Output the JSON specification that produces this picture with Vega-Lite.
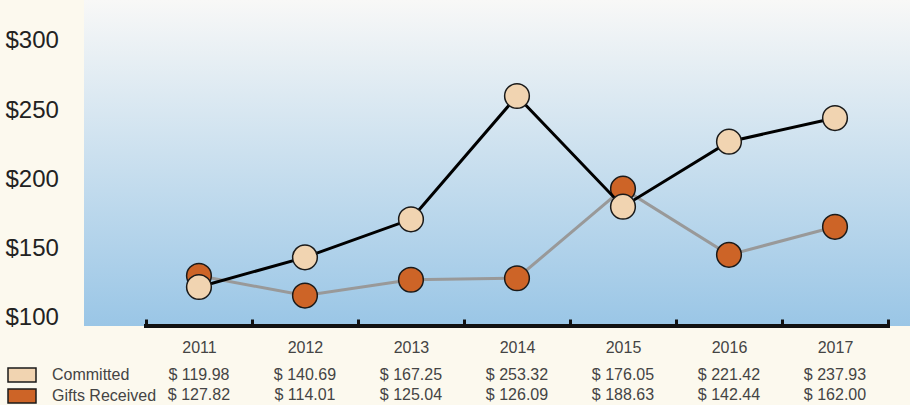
{
  "$schema": "https://vega.github.io/schema/vega-lite/v6.json",
  "width": 826,
  "height": 326,
  "autosize": {"type": "none"},
  "padding": {"left": 84, "top": 0, "right": 0, "bottom": 79},
  "background": "#fcf9ee",
  "config": {
    "font": "Liberation Sans",
    "view": {
      "stroke": null,
      "fill": {
        "gradient": "linear", "x1": 0, "y1": 0, "x2": 0, "y2": 1,
        "stops": [
          {"offset": 0, "color": "#f8f8f7"},
          {"offset": 1, "color": "#9ac6e6"}
        ]
      }
    },
    "locale": {
      "number": {"decimal": ".", "thousands": ",", "grouping": [3], "currency": ["$ ", ""]}
    }
  },
  "data": {
    "values": [
      {"year": "2011", "series": "Committed", "value": 119.98},
      {"year": "2012", "series": "Committed", "value": 140.69},
      {"year": "2013", "series": "Committed", "value": 167.25},
      {"year": "2014", "series": "Committed", "value": 253.32},
      {"year": "2015", "series": "Committed", "value": 176.05},
      {"year": "2016", "series": "Committed", "value": 221.42},
      {"year": "2017", "series": "Committed", "value": 237.93},
      {"year": "2011", "series": "Gifts Received", "value": 127.82},
      {"year": "2012", "series": "Gifts Received", "value": 114.01},
      {"year": "2013", "series": "Gifts Received", "value": 125.04},
      {"year": "2014", "series": "Gifts Received", "value": 126.09},
      {"year": "2015", "series": "Gifts Received", "value": 188.63},
      {"year": "2016", "series": "Gifts Received", "value": 142.44},
      {"year": "2017", "series": "Gifts Received", "value": 162.00}
    ]
  },
  "layer": [
    {
      "mark": {"type": "rule", "strokeWidth": 3, "color": "#111", "strokeCap": "square"},
      "encoding": {
        "x": {
          "datum": "2011", "type": "ordinal", "bandPosition": 0,
          "scale": {"type": "band", "domain": ["2011", "2012", "2013", "2014", "2015", "2016", "2017"], "paddingInner": 0, "paddingOuter": 0.396, "align": 0.738},
          "axis": {"title": null, "domain": false, "grid": false, "ticks": true, "tickBand": "extent", "tickSize": -7, "tickWidth": 3, "tickColor": "#111", "labelAngle": 0, "labelFontSize": 16, "labelColor": "#444", "labelPadding": 20}
        },
        "x2": {"datum": "2017", "bandPosition": 1},
        "y": {
          "datum": 94.2, "type": "quantitative",
          "scale": {"domain": [94.2, 329.6], "zero": false, "nice": false},
          "axis": {"orient": "left", "title": null, "domain": false, "ticks": false, "grid": false, "values": [100, 150, 200, 250, 300], "labelExpr": "'$' + datum.value", "labelAlign": "left", "labelPadding": 79, "labelFontSize": 24, "labelColor": "#222"}
        }
      }
    },
    {
      "transform": [{"filter": "datum.series === 'Gifts Received'"}],
      "mark": {"type": "line", "color": "#999999", "strokeWidth": 3},
      "encoding": {
        "x": {"field": "year", "type": "ordinal", "bandPosition": 0.5},
        "y": {"field": "value", "type": "quantitative", "scale": {"domain": [92.75, 320.35], "zero": false, "nice": false}, "axis": null}
      }
    },
    {
      "transform": [{"filter": "datum.series === 'Gifts Received'"}],
      "mark": {"type": "point", "filled": true, "size": 610, "opacity": 1, "stroke": "#1a1a1a", "strokeWidth": 1.5},
      "encoding": {
        "x": {"field": "year", "type": "ordinal", "bandPosition": 0.5},
        "y": {"field": "value", "type": "quantitative", "scale": {"domain": [92.75, 320.35], "zero": false, "nice": false}, "axis": null},
        "color": {
          "field": "series", "type": "nominal",
          "scale": {"domain": ["Committed", "Gifts Received"], "range": ["#f1d4b1", "#cd6427"]},
          "legend": {
            "orient": "none", "legendX": -73, "legendY": 364, "title": null, "direction": "vertical",
            "symbolType": "M-1.4,-0.7H1.4V0.7H-1.4Z", "symbolSize": 400, "symbolStrokeColor": "#222", "symbolStrokeWidth": 1.5, "symbolOpacity": 1,
            "labelFontSize": 16, "labelColor": "#444", "labelOffset": 19, "rowPadding": 0, "padding": 0
          }
        }
      }
    },
    {
      "transform": [{"filter": "datum.series === 'Committed'"}],
      "mark": {"type": "line", "color": "#000000", "strokeWidth": 3},
      "encoding": {
        "x": {"field": "year", "type": "ordinal", "bandPosition": 0.5},
        "y": {"field": "value", "type": "quantitative", "scale": {"domain": [92.75, 320.35], "zero": false, "nice": false}, "axis": null}
      }
    },
    {
      "transform": [{"filter": "datum.series === 'Committed'"}],
      "mark": {"type": "point", "filled": true, "size": 610, "opacity": 1, "stroke": "#1a1a1a", "strokeWidth": 1.5},
      "encoding": {
        "x": {"field": "year", "type": "ordinal", "bandPosition": 0.5},
        "y": {"field": "value", "type": "quantitative", "scale": {"domain": [92.75, 320.35], "zero": false, "nice": false}, "axis": null},
        "color": {"field": "series", "type": "nominal"}
      }
    },
    {
      "transform": [{"filter": "datum.series === 'Committed'"}],
      "mark": {"type": "text", "fontSize": 16, "color": "#444", "align": "center", "baseline": "middle"},
      "encoding": {
        "x": {"field": "year", "type": "ordinal", "bandPosition": 0.5},
        "y": {"datum": 58.5, "type": "quantitative", "scale": {"domain": [92.75, 320.35], "zero": false, "nice": false}, "axis": null},
        "text": {"field": "value", "type": "quantitative", "format": "$.2f"}
      }
    },
    {
      "transform": [{"filter": "datum.series === 'Gifts Received'"}],
      "mark": {"type": "text", "fontSize": 16, "color": "#444", "align": "center", "baseline": "middle"},
      "encoding": {
        "x": {"field": "year", "type": "ordinal", "bandPosition": 0.5},
        "y": {"datum": 44.9, "type": "quantitative", "scale": {"domain": [92.75, 320.35], "zero": false, "nice": false}, "axis": null},
        "text": {"field": "value", "type": "quantitative", "format": "$.2f"}
      }
    }
  ],
  "resolve": {"scale": {"y": "independent"}}
}
